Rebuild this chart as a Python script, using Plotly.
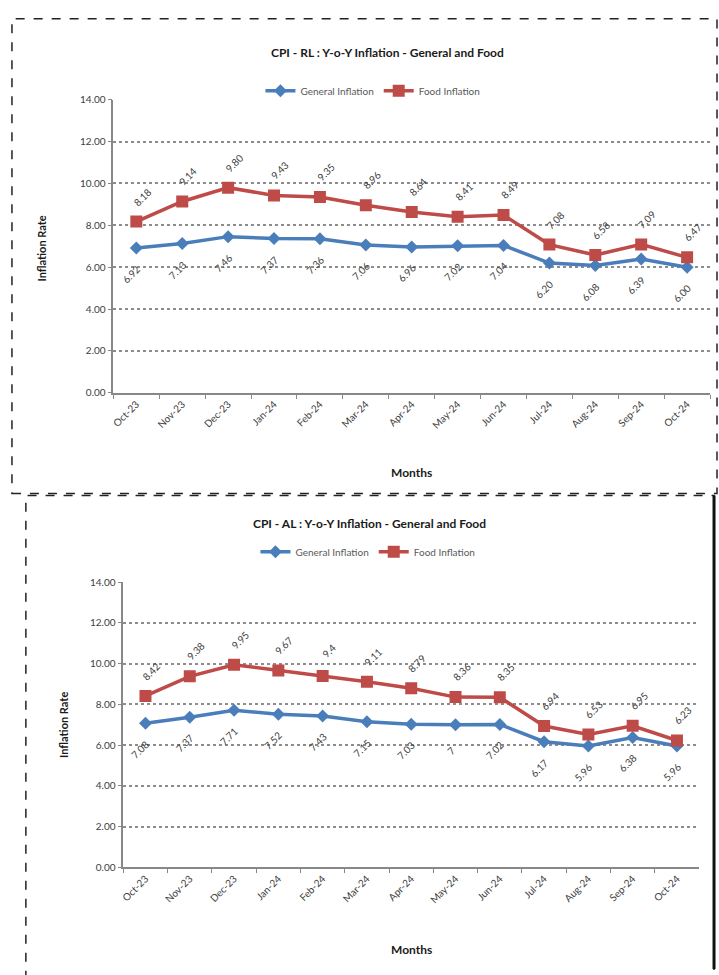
import plotly.graph_objects as go

months = ["Oct-23", "Nov-23", "Dec-23", "Jan-24", "Feb-24", "Mar-24", "Apr-24",
          "May-24", "Jun-24", "Jul-24", "Aug-24", "Sep-24", "Oct-24"]

rl_general = [6.92, 7.13, 7.46, 7.37, 7.36, 7.06, 6.96, 7.02, 7.04, 6.20, 6.08, 6.39, 6.00]
rl_food = [8.18, 9.14, 9.80, 9.43, 9.35, 8.96, 8.64, 8.41, 8.49, 7.08, 6.58, 7.09, 6.47]
rl_general_labels = ["6.92", "7.13", "7.46", "7.37", "7.36", "7.06", "6.96", "7.02", "7.04", "6.20", "6.08", "6.39", "6.00"]
rl_food_labels = ["8.18", "9.14", "9.80", "9.43", "9.35", "8.96", "8.64", "8.41", "8.49", "7.08", "6.58", "7.09", "6.47"]

al_general = [7.08, 7.37, 7.71, 7.52, 7.43, 7.15, 7.03, 7.00, 7.02, 6.17, 5.96, 6.38, 5.96]
al_food = [8.42, 9.38, 9.95, 9.67, 9.40, 9.11, 8.79, 8.36, 8.35, 6.94, 6.53, 6.95, 6.23]
al_general_labels = ["7.08", "7.37", "7.71", "7.52", "7.43", "7.15", "7.03", "7", "7.02", "6.17", "5.96", "6.38", "5.96"]
al_food_labels = ["8.42", "9.38", "9.95", "9.67", "9.4", "9.11", "8.79", "8.36", "8.35", "6.94", "6.53", "6.95", "6.23"]

y_ticks = [0, 2, 4, 6, 8, 10, 12, 14]

W, H = 719, 975
BLUE = "#4A7EBB"
RED = "#BE4B48"
FONT = "Lato, Open Sans, sans-serif"


def px(x):
    return x / W


def py(y):
    return 1 - y / H


fig = go.Figure()

panels = [
    dict(gen=rl_general, food=rl_food, gl=rl_general_labels, fl=rl_food_labels,
         xa="x", ya="y", legend="legend"),
    dict(gen=al_general, food=al_food, gl=al_general_labels, fl=al_food_labels,
         xa="x2", ya="y2", legend="legend2"),
]

for p in panels:
    fig.add_trace(go.Scatter(
        x=months, y=p["gen"], mode="lines+markers", name="General Inflation",
        line=dict(color=BLUE, width=3.5),
        marker=dict(symbol="diamond", size=10, color=BLUE),
        xaxis=p["xa"], yaxis=p["ya"], legend=p["legend"]))
    fig.add_trace(go.Scatter(
        x=months, y=p["food"], mode="lines+markers", name="Food Inflation",
        line=dict(color=RED, width=3.5),
        marker=dict(symbol="square", size=12, color=RED),
        xaxis=p["xa"], yaxis=p["ya"], legend=p["legend"]))
    for m, v, t in zip(months, p["food"], p["fl"]):
        fig.add_annotation(x=m, y=v, text=t, xref=p["xa"], yref=p["ya"],
                           showarrow=False, textangle=-45, xshift=6, yshift=25,
                           font=dict(size=10, color="#404040", family=FONT))
    for m, v, t in zip(months, p["gen"], p["gl"]):
        fig.add_annotation(x=m, y=v, text=t, xref=p["xa"], yref=p["ya"],
                           showarrow=False, textangle=-45, xshift=-5, yshift=-26,
                           font=dict(size=10, color="#404040", family=FONT))

axis_common_x = dict(
    type="category", tickson="boundaries", ticks="outside", ticklen=4,
    tickcolor="#888", showline=True, linecolor="#888", linewidth=1.5,
    tickangle=-45, tickfont=dict(size=10, color="#404040", family=FONT),
    showgrid=False, range=[-0.5, 12.5], categoryorder="array", categoryarray=months)
axis_common_y = dict(
    range=[0, 14], tickvals=y_ticks, tickformat=".2f", ticks="outside", ticklen=4,
    tickcolor="#888", showline=True, linecolor="#888", linewidth=1.5,
    showgrid=True, gridcolor="#8c8c8c", gridwidth=1.5, griddash="dot",
    tickfont=dict(size=10, color="#404040", family=FONT), zeroline=False)

fig.update_layout(
    width=W, height=H, margin=dict(l=0, r=0, t=0, b=0),
    paper_bgcolor="white", plot_bgcolor="white",
    font=dict(family=FONT, color="#404040"),
    xaxis=dict(domain=[px(110), px(710)], anchor="y", **axis_common_x),
    yaxis=dict(domain=[py(391), py(94)], anchor="x", **axis_common_y),
    xaxis2=dict(domain=[px(120), px(699)], anchor="y2", **axis_common_x),
    yaxis2=dict(domain=[py(872), py(583)], anchor="x2", **axis_common_y),
    legend=dict(orientation="h", x=px(371), y=py(85), xanchor="center", yanchor="middle",
                font=dict(size=10, color="#595959", family=FONT), bgcolor="rgba(0,0,0,0)",
                itemwidth=30),
    legend2=dict(orientation="h", x=px(366), y=py(552), xanchor="center", yanchor="middle",
                 font=dict(size=10, color="#595959", family=FONT), bgcolor="rgba(0,0,0,0)",
                 itemwidth=30),
    showlegend=True,
)

# titles and axis titles
texts = [
    ("CPI - RL : Y-o-Y Inflation - General and Food", 386, 46, 0, 12),
    ("CPI - AL : Y-o-Y Inflation - General and Food", 368, 523, 0, 12),
    ("Inflation Rate", 38, 245, -90, 11),
    ("Inflation Rate", 60, 728, -90, 11),
    ("Months", 410, 472, 0, 12),
    ("Months", 410, 955, 0, 12),
]
for t, x, y, ang, sz in texts:
    fig.add_annotation(text="<b>" + t + "</b>", x=px(x), y=py(y), xref="paper", yref="paper",
                       showarrow=False, textangle=ang, xanchor="center", yanchor="middle",
                       font=dict(size=sz, color="#1a1a1a", family=FONT))

# chart frames
fig.add_shape(type="rect", xref="paper", yref="paper", x0=px(8), x1=px(717), y0=py(493), y1=py(12),
              line=dict(color="#222", width=1.5, dash="dash"))
fig.add_shape(type="rect", xref="paper", yref="paper", x0=px(22), x1=px(714), y0=py(990), y1=py(495),
              line=dict(color="#222", width=1.5, dash="dash"))
fig.add_shape(type="line", xref="paper", yref="paper", x0=px(714), x1=px(714), y0=py(975), y1=py(495),
              line=dict(color="#111", width=3))

fig.write_html("out.html",
               config={"displayModeBar": False},
               post_script="document.body.style.margin='0';document.body.style.overflow='hidden';")
